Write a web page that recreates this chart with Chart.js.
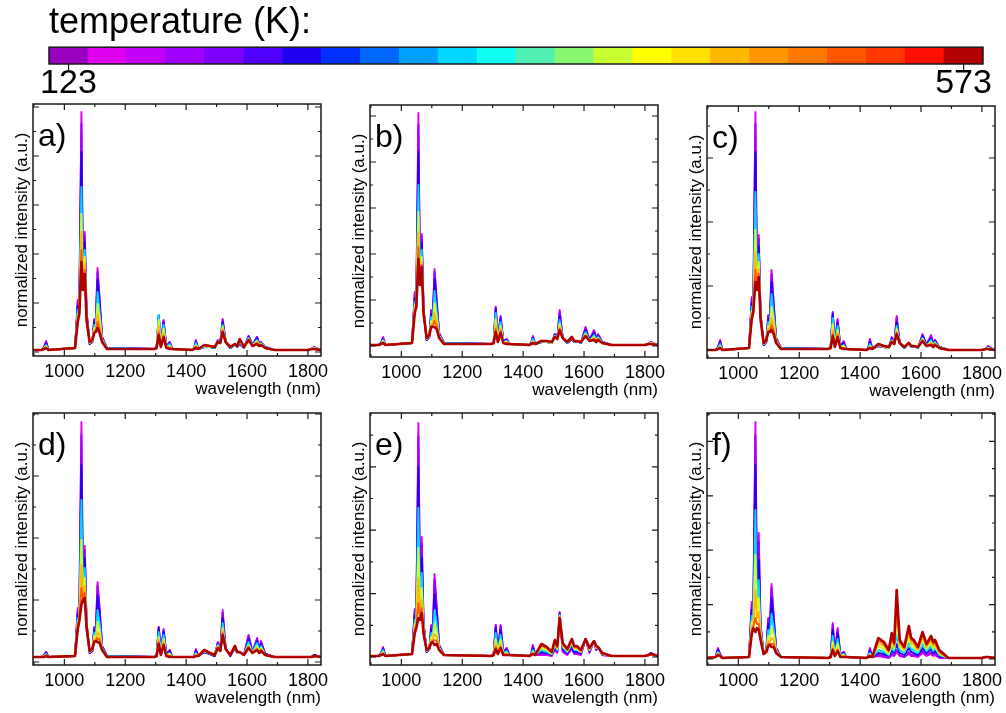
<!DOCTYPE html>
<html lang="en">
  <head>
    <meta charset="UTF-8" />
    <title>temperature spectra</title>
    <script src="https://cdn.jsdelivr.net/npm/chart.js"></script>
    <style>
      body {
        margin: 0;
        background: #fff;
      }
      #page {
        position: relative;
        width: 1006px;
        height: 713px;
        overflow: hidden;
      }
      .box {
        position: absolute;
      }
    </style>
  </head>
  <body>
    <div id="page">
      <div class="box" style="left: 0; top: 0; width: 1006px; height: 105px">
        <canvas id="colorbar"></canvas>
      </div>
    </div>

    <script>
      // colour scale, 24 steps from 123 K to 573 K
      const tempColors = [
        "#9a00c0", "#e000f0", "#c000f8", "#a000ff", "#8000ff", "#5000ff",
        "#2000f0", "#0030ff", "#0068ff", "#00a0ff", "#00d8ff", "#10fff0",
        "#50f0b0", "#88f870", "#c8ff30", "#ffff00", "#ffe000", "#ffb800",
        "#ff9800", "#ff7800", "#ff5800", "#ff3800", "#ff1000", "#b00000",
      ];
      const colorbarValues = tempColors.map(() => 1);
      const tempEnds = ["123", "573"];

      // which colour steps are drawn as spectra (cold -> hot)
      const curveSteps = [1, 3, 6, 10, 14, 17, 20, 23];

      const wavelengths = [
        897, 925, 933, 940, 948,
        1035, 1044, 1049, 1056, 1061, 1067, 1073, 1083,
        1092, 1098, 1103, 1109, 1116, 1124, 1140,
        1295, 1303, 1310, 1317, 1326, 1335, 1346, 1355,
        1420, 1426, 1432, 1440,
        1460, 1478, 1494, 1504, 1512, 1520, 1530, 1545,
        1560, 1568, 1576, 1590, 1605, 1618, 1633, 1640, 1646, 1660,
        1690, 1800, 1812, 1820, 1843,
      ];
      const xTicks = [1000, 1200, 1400, 1600, 1800];

      // intensities, one row per temperature step (cold first)
      const panelA = [
        [2,2,5,11,2, 4,52,45,240,75,120,40,8, 10,33,28,84,53,15,4, 3,4,34,8,32,6,10,3, 2,3,12,3, 5,5,4,12,9,33,10,4, 7,5,8,4,16,7,15,8,10,5, 2,2,3,5,2],
        [2,2,5,10,2, 4,50,44,228,74,116,40,8, 10,32,27,80,51,15,4, 3,4,35,8,31,6,10,3, 2,3,11,3, 5,5,4,12,9,32,10,4, 7,5,8,4,16,7,15,8,10,5, 2,2,3,5,2],
        [2,2,4,9,2, 4,46,42,200,72,110,38,8, 10,30,26,72,46,14,4, 3,4,37,8,29,6,9,3, 2,3,10,3, 5,5,4,11,9,30,10,4, 7,5,9,4,15,7,14,8,9,5, 2,2,3,4,2],
        [2,2,4,7,2, 4,42,40,165,70,102,36,9, 11,27,24,60,40,13,4, 3,4,37,7,27,5,8,3, 2,3,9,3, 5,5,4,11,9,27,10,4, 7,5,10,4,14,7,12,7,9,5, 2,2,3,4,2],
        [2,2,4,6,2, 4,38,38,138,68,95,34,9, 11,24,22,48,33,12,3, 3,4,32,7,23,5,6,3, 2,3,7,3, 6,5,5,10,9,25,10,5, 7,6,11,5,13,6,11,7,8,4, 2,2,3,4,2],
        [2,2,3,5,2, 4,35,38,120,66,88,33,10, 12,22,21,38,27,11,3, 3,4,26,6,19,5,5,3, 2,3,6,3, 6,6,5,10,9,23,10,5, 8,6,12,5,13,6,10,7,8,4, 2,2,3,3,2],
        [2,2,3,4,2, 4,32,38,102,64,82,32,10, 12,20,20,30,22,10,3, 3,4,20,5,16,4,4,3, 2,3,5,3, 7,6,5,10,9,21,10,5, 8,6,13,5,12,6,9,6,7,4, 2,2,3,3,2],
        [2,2,3,4,2, 4,30,38,90,62,78,32,10, 12,19,20,24,19,10,3, 3,4,17,5,15,4,3,3, 2,3,4,3, 7,6,5,10,9,20,10,5, 8,6,13,5,12,6,8,6,7,4, 2,2,3,3,2],
      ];
      const panelB = [
        [2,2,4,10,2, 4,55,46,234,72,113,38,7, 10,37,28,78,48,14,4, 3,4,40,8,31,6,8,3, 2,3,11,3, 5,5,4,13,8,37,9,4, 8,5,6,4,20,7,17,8,13,5, 2,2,3,5,2],
        [2,2,4,9,2, 4,53,45,222,71,110,38,7, 10,36,27,75,46,14,4, 3,4,40,8,30,6,8,3, 2,3,10,3, 5,5,4,13,8,35,9,4, 8,5,6,4,19,7,16,8,12,5, 2,2,3,5,2],
        [2,2,4,8,2, 4,49,43,195,70,104,37,7, 10,33,26,68,42,13,4, 3,4,38,7,28,6,7,3, 2,3,9,3, 5,5,4,12,8,31,9,4, 8,5,6,4,17,7,14,7,11,5, 2,2,3,4,2],
        [2,2,4,7,2, 4,45,42,162,68,97,36,8, 11,30,24,56,36,12,4, 3,4,34,7,25,5,6,3, 2,3,8,3, 5,5,4,11,8,27,9,4, 9,5,6,4,15,6,12,7,10,5, 2,2,3,4,2],
        [2,2,3,6,2, 4,42,41,135,67,90,35,8, 11,26,22,44,30,11,3, 3,4,28,6,21,5,5,3, 2,3,6,3, 6,5,4,11,8,23,9,5, 9,6,6,5,13,6,10,6,9,4, 2,2,3,4,2],
        [2,2,3,5,2, 4,39,40,115,66,85,34,9, 12,23,21,34,25,10,3, 3,4,22,6,18,4,4,3, 2,3,5,3, 6,6,5,10,8,20,9,5, 10,6,6,5,12,6,9,6,8,4, 2,2,3,3,2],
        [2,2,3,4,2, 4,36,40,100,64,82,33,9, 12,21,20,26,21,10,3, 3,4,18,5,16,4,4,3, 2,3,4,3, 6,6,5,10,8,18,9,5, 10,6,6,5,11,6,8,6,8,4, 2,2,3,3,2],
        [2,2,3,4,2, 4,34,40,88,62,80,33,9, 12,20,20,20,18,9,3, 3,4,15,5,14,4,3,3, 2,3,4,3, 6,6,5,10,8,17,9,5, 10,6,6,5,11,6,7,5,7,4, 2,2,3,3,2],
      ];
      const panelC = [
        [2,2,5,12,2, 4,55,46,240,74,117,38,7, 10,37,28,82,50,14,4, 3,4,39,8,33,6,11,3, 2,3,13,3, 6,5,4,15,8,36,9,4, 9,5,6,4,18,7,17,8,12,5, 2,2,3,6,2],
        [2,2,5,11,2, 4,53,45,228,73,113,38,7, 10,36,27,78,48,14,4, 3,4,40,8,32,6,10,3, 2,3,12,3, 6,5,4,14,8,34,9,4, 9,5,6,4,17,7,16,8,12,5, 2,2,3,5,2],
        [2,2,4,10,2, 4,49,43,200,72,106,37,7, 10,33,26,70,44,13,4, 3,4,38,7,29,6,9,3, 2,3,10,3, 6,5,4,13,8,30,9,4, 9,5,6,4,16,7,14,7,11,5, 2,2,3,5,2],
        [2,2,4,8,2, 4,45,42,160,70,98,36,8, 11,30,24,58,38,12,4, 3,4,34,7,26,5,7,3, 2,3,8,3, 7,5,4,12,8,26,9,4, 9,5,6,4,14,6,12,7,10,5, 2,2,3,4,2],
        [2,2,3,6,2, 4,41,41,122,68,90,35,8, 11,26,22,45,31,11,3, 3,4,28,6,22,5,6,3, 2,3,6,3, 7,5,4,11,8,23,9,5, 9,6,6,5,13,6,10,6,9,4, 2,2,3,4,2],
        [2,2,3,5,2, 4,38,40,100,66,83,34,9, 12,23,21,34,25,10,3, 3,4,22,6,19,4,4,3, 2,3,5,3, 8,6,5,11,8,20,9,5, 9,6,6,5,12,6,9,6,8,4, 2,2,3,3,2],
        [2,2,3,4,2, 4,35,40,82,64,78,33,9, 12,21,20,27,21,10,3, 3,4,18,5,17,4,4,3, 2,3,4,3, 8,6,5,10,8,19,9,5, 9,6,6,5,11,6,8,6,8,4, 2,2,3,3,2],
        [2,2,3,4,2, 4,33,40,70,62,75,33,9, 12,20,20,22,18,9,3, 3,4,16,5,15,4,3,3, 2,3,4,3, 8,6,5,10,8,18,9,5, 9,6,6,5,11,6,7,5,7,4, 2,2,3,3,2],
      ];
      const panelD = [
        [3,3,5,8,3, 4,52,45,238,72,114,38,7, 9,33,27,78,52,14,4, 3,4,33,8,31,6,10,3, 3,3,11,4, 8,6,4,18,9,50,11,4, 12,7,8,5,25,8,22,10,19,6, 3,3,3,5,3],
        [3,3,5,8,3, 4,50,44,225,71,110,38,7, 9,32,27,74,50,14,4, 3,4,33,8,30,6,10,3, 3,3,10,4, 8,6,4,17,9,47,11,4, 12,7,8,5,24,8,21,10,18,6, 3,3,3,5,3],
        [3,3,4,7,3, 4,46,42,195,70,102,36,7, 9,30,25,64,44,13,4, 3,4,32,7,28,6,9,3, 3,3,9,4, 8,6,4,16,9,42,11,4, 12,7,8,5,21,8,19,9,16,6, 3,3,3,5,3],
        [3,3,4,6,3, 4,42,41,160,68,92,35,8, 10,27,23,50,37,12,4, 3,4,28,7,25,5,7,3, 3,3,7,4, 9,6,5,15,9,37,11,5, 13,7,8,5,18,8,17,9,14,5, 3,3,3,4,3],
        [3,3,4,5,3, 4,39,40,120,66,82,34,8, 10,24,21,38,30,11,3, 3,4,23,6,21,5,6,3, 3,3,6,4, 9,7,5,14,9,32,11,5, 13,7,8,5,15,7,14,8,12,5, 3,3,3,4,3],
        [3,3,4,5,3, 4,36,40,95,64,74,33,9, 11,21,20,28,24,10,3, 3,4,20,6,18,4,5,3, 3,3,5,4, 10,7,5,13,9,29,11,5, 14,8,8,5,14,7,12,8,11,5, 3,3,3,4,3],
        [3,3,3,4,3, 4,33,39,72,62,67,32,9, 11,19,19,22,20,10,3, 3,4,18,5,16,4,4,3, 3,3,4,4, 10,7,5,12,9,27,11,5, 14,8,8,5,13,7,11,7,10,5, 3,3,3,4,3],
        [3,3,3,4,3, 4,31,39,55,60,62,32,9, 11,18,19,18,17,10,3, 3,4,16,5,15,4,3,3, 3,3,4,4, 10,7,5,12,9,25,11,5, 14,8,8,5,12,7,10,7,9,5, 3,3,3,4,3],
      ];
      const panelE = [
        [2,2,5,11,2, 4,49,42,235,72,121,36,6, 9,33,26,84,53,13,3, 2,3,33,7,33,6,10,3, 2,3,13,3, 3,3,2,8,5,46,6,3, 9,4,4,3,19,5,17,8,11,3, 2,2,3,5,2],
        [2,2,5,10,2, 4,47,41,222,70,114,35,6, 9,32,25,78,50,13,3, 2,3,33,7,32,6,10,3, 2,3,12,3, 4,4,3,9,6,45,7,4, 10,5,5,4,19,6,17,8,11,3, 2,2,3,5,2],
        [2,2,4,9,2, 4,43,39,190,66,100,33,6, 9,29,24,64,43,12,3, 2,3,30,6,28,5,8,3, 2,3,10,3, 6,5,3,11,7,44,9,5, 12,6,6,5,19,7,17,9,11,4, 2,2,3,5,2],
        [2,2,4,8,2, 4,38,37,150,60,85,31,7, 10,25,22,48,35,11,3, 2,3,25,6,23,5,7,3, 2,3,8,3, 8,6,4,13,8,43,11,6, 14,8,8,6,19,8,17,10,11,4, 2,2,3,4,2],
        [2,2,4,6,2, 4,34,35,110,54,70,29,7, 10,21,20,34,27,10,3, 2,3,19,5,18,4,5,3, 2,3,6,3, 10,8,4,15,9,42,12,7, 16,9,9,6,19,8,17,10,11,4, 2,2,3,4,2],
        [2,2,3,5,2, 4,30,33,80,48,58,27,8, 10,18,18,24,21,9,3, 2,3,14,5,14,4,4,3, 2,3,5,3, 12,9,5,16,10,41,13,8, 17,10,10,7,19,9,17,11,11,5, 2,2,3,4,2],
        [2,2,3,4,2, 4,27,31,55,42,50,25,8, 10,16,17,18,17,9,3, 2,3,11,4,11,3,3,3, 2,3,4,3, 13,10,6,17,11,40,14,8, 18,11,11,8,19,10,17,12,11,5, 2,2,3,4,2],
        [2,2,3,4,2, 4,25,30,40,38,45,24,8, 10,15,16,13,14,8,3, 2,3,9,4,10,3,3,3, 2,3,4,3, 14,11,6,18,12,40,15,9, 19,12,12,8,19,10,17,12,11,5, 2,2,3,4,2],
      ];
      const panelF = [
        [2,3,12,6,2, 3,58,46,238,72,127,36,6, 10,42,30,76,45,12,3, 2,3,37,7,32,6,8,3, 2,3,12,3, 4,3,2,5,4,8,4,3, 6,4,4,3,7,4,6,4,5,2, 2,2,3,3,2],
        [2,3,11,6,2, 3,55,44,225,70,118,35,6, 10,40,29,72,43,12,3, 2,3,35,7,30,6,8,3, 2,3,11,3, 5,4,3,6,5,10,5,3, 8,5,5,4,9,5,8,5,7,3, 2,2,3,3,2],
        [2,3,10,5,2, 3,50,42,195,66,100,33,6, 10,36,27,62,39,11,3, 2,3,30,6,27,5,7,3, 2,3,9,3, 7,6,4,9,7,16,7,5, 12,8,7,5,12,7,11,7,9,4, 2,2,3,3,2],
        [2,3,8,5,2, 3,44,40,150,58,80,30,6, 9,30,24,46,32,10,3, 2,3,24,5,21,5,6,3, 2,3,7,3, 10,8,5,13,9,26,10,7, 17,11,10,7,16,9,14,9,12,5, 2,2,3,3,2],
        [2,3,7,4,2, 3,38,37,105,50,62,27,6, 9,24,21,32,26,9,3, 2,3,18,5,16,4,5,3, 2,3,6,3, 14,11,6,17,11,38,13,9, 22,14,13,9,20,11,17,11,14,6, 2,2,3,3,2],
        [2,3,6,4,2, 3,33,35,70,42,48,24,6, 9,19,18,22,20,8,3, 2,3,14,4,12,4,4,3, 2,3,5,3, 17,14,8,21,13,50,16,10, 27,17,16,10,23,13,20,14,16,7, 2,2,3,3,2],
        [2,3,5,4,2, 3,29,33,42,36,36,22,6, 9,16,16,16,16,8,3, 2,3,11,4,10,3,3,3, 2,3,4,3, 20,16,9,24,15,60,18,12, 31,20,18,12,26,15,22,16,18,8, 2,2,3,3,2],
        [2,3,5,4,2, 3,26,32,28,32,30,20,6, 8,14,15,13,13,7,3, 2,3,10,4,9,3,3,3, 2,3,4,3, 22,18,10,27,17,70,20,13, 34,22,20,13,28,16,24,18,20,10, 2,2,3,3,2],
      ];

      Chart.defaults.font.family = '"Liberation Sans", Arial, sans-serif';
      Chart.defaults.color = "#000";

      // frame with inward ticks on all four sides + panel letter
      const framePlugin = {
        id: "frame",
        afterDatasetsDraw(chart, args, opts) {
          const { ctx, chartArea: a } = chart;
          const x = chart.scales.x;
          const y = chart.scales.y;
          ctx.save();
          ctx.strokeStyle = "#1a1a1a";
          if (opts.ticks) {
            ctx.lineWidth = 1.2;
            ctx.beginPath();
            for (let v = 900; v <= x.max; v += 100) {
              const px = x.getPixelForValue(v);
              const len = xTicks.includes(v) ? 6 : 3;
              ctx.moveTo(px, a.bottom);
              ctx.lineTo(px, a.bottom - len);
              ctx.moveTo(px, a.top);
              ctx.lineTo(px, a.top + len);
            }
            const t = opts.ticks;
            for (let k = 0; t.start + (k * t.step) / 2 <= y.max; k++) {
              const v = t.start + (k * t.step) / 2;
              if (v < y.min) continue;
              const py = y.getPixelForValue(v);
              const len = k % 2 ? 3 : 6;
              ctx.moveTo(a.left, py);
              ctx.lineTo(a.left + len, py);
              ctx.moveTo(a.right, py);
              ctx.lineTo(a.right - len, py);
            }
            ctx.stroke();
          }
          ctx.lineWidth = 1.5;
          ctx.strokeRect(a.left, a.top, a.right - a.left, a.bottom - a.top);
          if (opts.label) {
            ctx.fillStyle = "#000";
            ctx.font = '32px "Liberation Sans", Arial, sans-serif';
            ctx.textBaseline = "alphabetic";
            ctx.fillText(opts.label, a.left + 5, a.top + 42);
          }
          ctx.restore();
        },
      };

      // colour bar
      new Chart(document.getElementById("colorbar"), {
        type: "bar",
        data: {
          labels: tempColors.map((c, i) => i),
          datasets: [
            {
              data: colorbarValues,
              backgroundColor: tempColors,
              borderWidth: 0,
              barPercentage: 1,
              categoryPercentage: 1,
            },
          ],
        },
        options: {
          responsive: true,
          maintainAspectRatio: false,
          animation: false,
          layout: { padding: { left: 49, right: 23, top: 0, bottom: 0 } },
          plugins: {
            legend: { display: false },
            tooltip: { enabled: false },
            title: {
              display: true,
              text: "temperature (K):",
              align: "start",
              color: "#000",
              font: { size: 36, weight: "normal" },
              padding: { top: 1, bottom: 3 },
            },
            frame: {},
          },
          scales: {
            x: {
              afterFit: (s) => {
                s.height = 41;
                s.paddingLeft = 0;
                s.paddingRight = 0;
              },
              border: { display: false },
              grid: {
                offset: false,
                drawOnChartArea: false,
                drawTicks: true,
                tickLength: 6,
                lineWidth: 1.2,
                color: (c) =>
                  c.index === 0 || c.index === tempColors.length - 1
                    ? "#1a1a1a"
                    : "transparent",
              },
              ticks: {
                autoSkip: false,
                maxRotation: 0,
                padding: -3,
                color: "#000",
                font: { size: 34, lineHeight: 1 },
                callback: (v, i) =>
                  i === 0 ? tempEnds[0] : i === tempColors.length - 1 ? tempEnds[1] : "",
              },
            },
            y: { display: false, min: 0, max: 1 },
          },
        },
        plugins: [framePlugin],
      });

      const panels = [
        { label: "a)", rows: panelA, left: 33, top: 104, y: [-4, 248], ticks: { start: 0, step: 49 } },
        { label: "b)", rows: panelB, left: 370, top: 105, y: [-10, 242], ticks: { start: 1, step: 46 } },
        { label: "c)", rows: panelC, left: 707, top: 106, y: [-6, 246], ticks: { start: 2, step: 64 } },
        { label: "d)", rows: panelD, left: 33, top: 413, y: [-5, 247], ticks: { start: -2, step: 62 } },
        { label: "e)", rows: panelE, left: 370, top: 413, y: [-7, 245], ticks: { start: 1, step: 63.4 } },
        { label: "f)", rows: panelF, left: 707, top: 413, y: [-5, 247], ticks: { start: 1, step: 54.4 } },
      ];

      const page = document.getElementById("page");

      panels.forEach((p) => {
        const box = document.createElement("div");
        box.className = "box";
        box.style.left = p.left - 33 + "px";
        box.style.top = p.top - 10 + "px";
        box.style.width = 288 + 33 + 8 + "px";
        box.style.height = 252 + 10 + 44 + "px";
        const canvas = document.createElement("canvas");
        box.appendChild(canvas);
        page.appendChild(box);

        // hottest first so it ends up drawn on top
        const datasets = p.rows
          .map((vals, i) => ({
            data: vals.map((v, j) => ({ x: wavelengths[j], y: v })),
            borderColor: tempColors[curveSteps[i]],
            borderWidth: i === p.rows.length - 1 ? 2.6 : 1.9,
            borderJoinStyle: "round",
            pointRadius: 0,
            tension: 0,
          }))
          .reverse();

        new Chart(canvas, {
          type: "line",
          data: { datasets },
          options: {
            responsive: true,
            maintainAspectRatio: false,
            animation: false,
            layout: { padding: { left: 0, top: 10, right: 8, bottom: 0 } },
            plugins: {
              legend: { display: false },
              tooltip: { enabled: false },
              frame: { label: p.label, ticks: p.ticks },
            },
            scales: {
              x: {
                type: "linear",
                min: 897,
                max: 1843,
                afterBuildTicks: (s) => {
                  s.ticks = xTicks.map((v) => ({ value: v }));
                },
                afterFit: (s) => {
                  s.height = 44;
                  s.paddingLeft = 0;
                  s.paddingRight = 0;
                },
                border: { display: false },
                grid: { display: false, drawTicks: false },
                ticks: {
                  padding: 5,
                  maxRotation: 0,
                  color: "#000",
                  font: { size: 18 },
                  callback: (v) => String(v),
                },
                title: {
                  display: true,
                  text: "wavelength (nm)",
                  align: "end",
                  color: "#000",
                  font: { size: 17 },
                  padding: { top: 0, bottom: 0 },
                },
              },
              y: {
                type: "linear",
                min: p.y[0],
                max: p.y[1],
                afterFit: (s) => {
                  s.width = 33;
                },
                border: { display: false },
                grid: { display: false, drawTicks: false },
                ticks: { display: false },
                title: {
                  display: true,
                  text: "normalized intensity (a.u.)",
                  color: "#000",
                  font: { size: 17 },
                  padding: { top: 12, bottom: 0 },
                },
              },
            },
          },
          plugins: [framePlugin],
        });
      });
    </script>
  </body>
</html>
